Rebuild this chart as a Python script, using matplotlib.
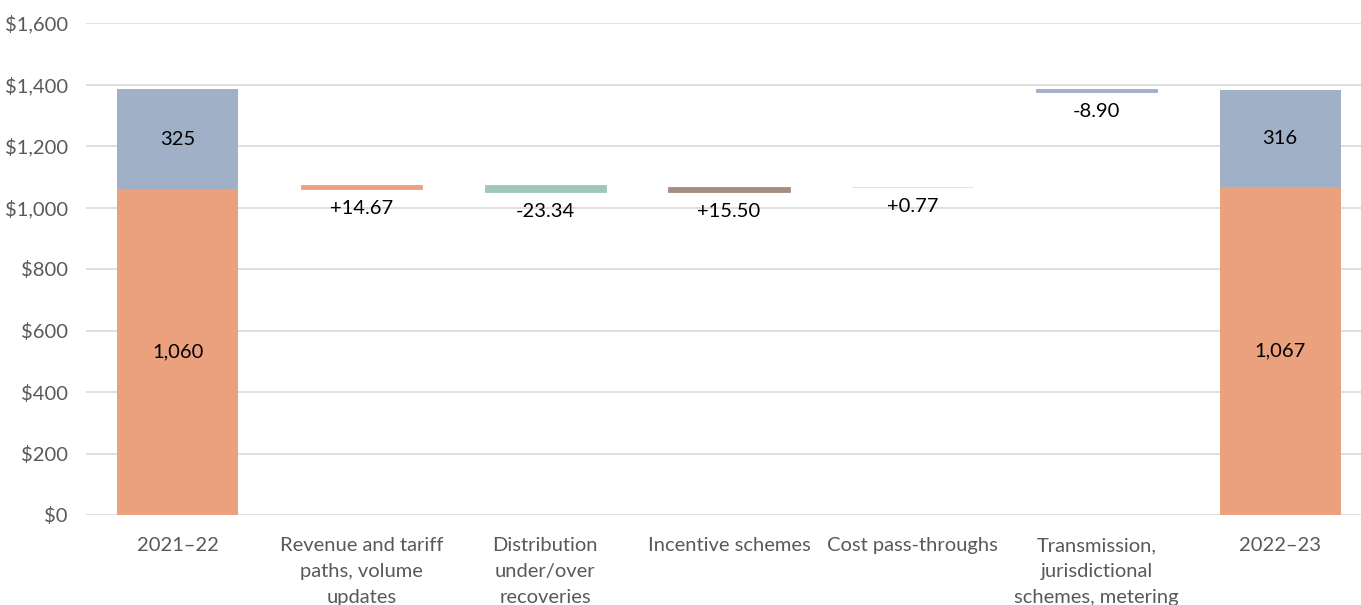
import numpy as np
import matplotlib.pyplot as plt

plt.rcParams["font.family"] = ["Lato", "DejaVu Sans"]

CATEGORIES = [
    "2021–22",
    "Revenue and tariff\npaths, volume\nupdates",
    "Distribution\nunder/over\nrecoveries",
    "Incentive schemes",
    "Cost pass-throughs",
    "Transmission,\njurisdictional\nschemes, metering",
    "2022–23",
]

# opening / closing totals: (orange part, blue part)
OPENING = [1060, 325]
CLOSING = [1067, 316]

# movements between the two years
CHANGES = [14.67, -23.34, 15.50, 0.77, -8.90]
CHANGE_LABELS = ["+14.67", "-23.34", "+15.50", "+0.77", "-8.90"]

ORANGE = "#EBA07E"
BLUE = "#9FB0C7"
CHANGE_COLORS = [ORANGE, "#A0C7BA", "#A58D82", "#F7CDD4", BLUE]

FS = 14.5

fig = plt.figure(figsize=(13.61, 6.05), dpi=100)
ax = fig.add_axes([86 / 1361, 1 - 515 / 605, 1286 / 1361, 492 / 605])

x = np.arange(len(CATEGORIES))
width = 0.66

# opening and closing stacks
for xi, (low, high) in zip([x[0], x[-1]], [OPENING, CLOSING]):
    ax.bar(xi, low, width=width, color=ORANGE, zorder=3)
    ax.bar(xi, high, bottom=low, width=width, color=BLUE, zorder=3)
    ax.text(xi, low / 2, f"{low:,}", ha="center", va="center",
            fontsize=FS, color="black", zorder=4)
    ax.text(xi, low + high / 2, f"{high:,}", ha="center", va="center",
            fontsize=FS, color="black", zorder=4)

# floating movement bars: first four chain from the orange part,
# the last one hangs off the total
starts = []
level = OPENING[0]
for c in CHANGES[:4]:
    starts.append(level)
    level += c
starts.append(OPENING[0] + OPENING[1])

for i, (s, c, col, lab) in enumerate(zip(starts, CHANGES, CHANGE_COLORS, CHANGE_LABELS)):
    xi = x[i + 1]
    ax.bar(xi, c, bottom=s, width=width, color=col, edgecolor=col,
           linewidth=0.6, zorder=3)
    ax.annotate(lab, (xi, min(s, s + c)), xytext=(0, -8),
                textcoords="offset points", ha="center", va="top",
                fontsize=FS, color="black", zorder=4)

ax.set_xlim(-0.5, len(CATEGORIES) - 0.5)
ax.set_ylim(0, 1600)
ax.set_yticks(np.arange(0, 1601, 200))
ax.set_yticklabels([f"${v:,}" for v in range(0, 1601, 200)])
ax.set_xticks(x)
ax.set_xticklabels(CATEGORIES, linespacing=1.65)

ax.grid(axis="y", color="#D9D9D9", linewidth=1.2, zorder=0)
ax.set_axisbelow(True)
for side in ["top", "right", "left", "bottom"]:
    ax.spines[side].set_visible(False)
ax.tick_params(axis="both", length=0, labelsize=FS, colors="#595959")
ax.tick_params(axis="y", pad=13)
ax.tick_params(axis="x", pad=16)

fig.savefig("out.png", dpi=100)
